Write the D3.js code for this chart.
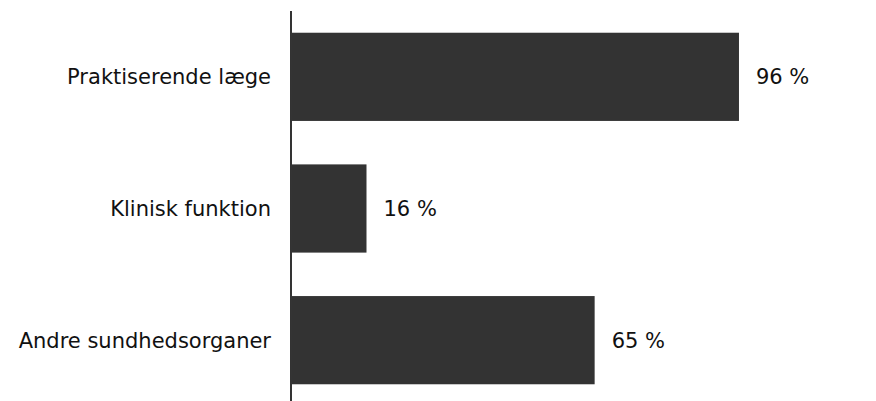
<!DOCTYPE html>
<html>
<head>
<meta charset="utf-8">
<script src="https://cdn.jsdelivr.net/npm/d3@7"></script>
<style>
  body { margin: 0; background: #fff; }
  svg { display: block; }
</style>
</head>
<body>
<svg id="chart" width="876" height="401"></svg>
<script>
// data
const categories = ['Praktiserende læge', 'Klinisk funktion', 'Andre sundhedsorganer'];
const values = [96, 16, 65];
const valueLabels = ['96 %', '16 %', '65 %'];

const svg = d3.select('#chart');
const x0 = 292;
const font = '"DejaVu Sans", Verdana, sans-serif';

const x = d3.scaleLinear().domain([0, 100]).range([x0, 757.6]);
const y = d3.scaleBand().domain(categories).range([11, 406])
  .paddingInner(0.33).paddingOuter(0.165);

// bars
svg.selectAll('rect.bar')
  .data(categories)
  .join('rect')
  .attr('class', 'bar')
  .attr('x', x(0))
  .attr('y', d => y(d))
  .attr('width', (d, i) => x(values[i]) - x(0))
  .attr('height', y.bandwidth())
  .attr('fill', '#333333');

// axis line, no ticks
svg.append('line')
  .attr('x1', x0 - 1).attr('x2', x0 - 1)
  .attr('y1', 11).attr('y2', 401)
  .attr('stroke', '#000')
  .attr('stroke-width', 1.6);

// category labels
svg.selectAll('text.cat')
  .data(categories)
  .join('text')
  .attr('class', 'cat')
  .attr('x', x0 - 21)
  .attr('y', d => y(d) + y.bandwidth() / 2)
  .attr('dy', '0.35em')
  .attr('text-anchor', 'end')
  .style('font-family', font)
  .style('font-size', '21px')
  .attr('fill', '#111')
  .text(d => d);

// value labels
svg.selectAll('text.val')
  .data(categories)
  .join('text')
  .attr('class', 'val')
  .attr('x', (d, i) => x(values[i]) + 17)
  .attr('y', d => y(d) + y.bandwidth() / 2)
  .attr('dy', '0.35em')
  .style('font-family', font)
  .style('font-size', '21px')
  .attr('fill', '#111')
  .text((d, i) => valueLabels[i]);
</script>
</body>
</html>
